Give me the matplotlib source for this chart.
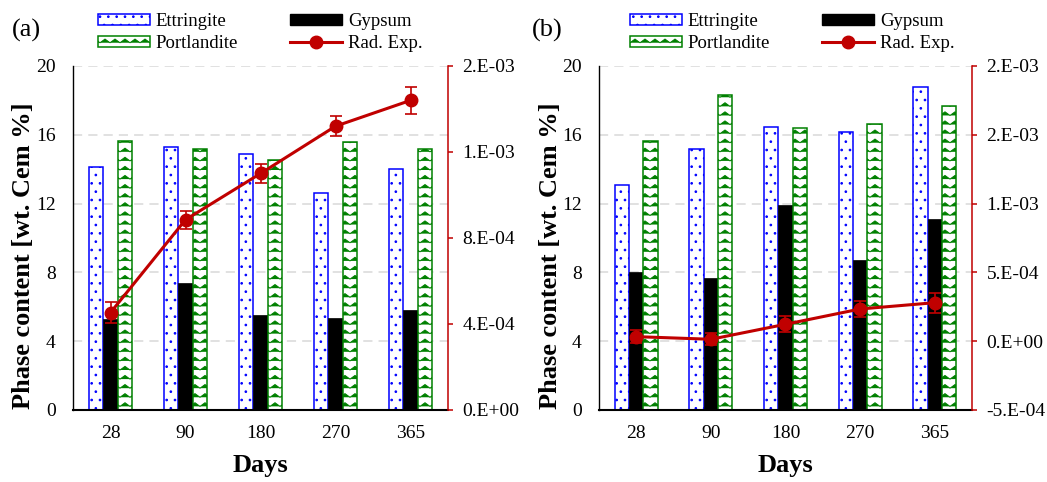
import numpy as np
import matplotlib
matplotlib.use("Agg")
import matplotlib.pyplot as plt
import matplotlib.hatch as mhatch
from matplotlib.path import Path
from matplotlib.lines import Line2D
from matplotlib.patches import Patch
from matplotlib.ticker import FuncFormatter, MultipleLocator

# ---------------- data ----------------
days = ["28", "90", "180", "270", "365"]

ettringite_a = [14.15, 15.3, 14.9, 12.6, 14.0]
gypsum_a = [5.3, 7.4, 5.5, 5.35, 5.8]
portlandite_a = [15.65, 15.2, 14.55, 15.6, 15.15]
radexp_a = [4.53e-4, 8.85e-4, 1.10e-3, 1.32e-3, 1.44e-3]
radexp_err_a = [0.48e-4, 0.42e-4, 0.45e-4, 0.47e-4, 0.63e-4]

ettringite_b = [13.1, 15.15, 16.45, 16.15, 18.8]
gypsum_b = [8.0, 7.7, 11.9, 8.7, 11.1]
portlandite_b = [15.65, 18.3, 16.4, 16.6, 17.65]
radexp_b = [0.33e-4, 0.14e-4, 1.23e-4, 2.34e-4, 2.80e-4]
radexp_err_b = [0.46e-4, 0.45e-4, 0.57e-4, 0.55e-4, 0.73e-4]

legend_labels = ["Ettringite", "Portlandite", "Gypsum", "Rad. Exp."]
panel_labels = ["(a)", "(b)"]

# ---------------- custom zig-zag hatch (replaces 'o') ----------------
class ZigZagHatch(mhatch.HatchPatternBase):
    def __init__(self, hatch, density):
        n = hatch.count('o')
        self.rows = 11 * n
        self.teeth = 10 * n
        self.num_vertices = self.rows * (2 * self.teeth + 1) if n else 0

    def set_vertices_and_codes(self, vertices, codes):
        pts = 2 * self.teeth + 1
        xs = np.linspace(0, 1, pts)
        amp = 0.4 / self.rows
        k = 0
        for r in range(self.rows):
            y0 = (r + 0.3) / self.rows
            ys = y0 + np.where(np.arange(pts) % 2 == 1, amp, 0.0)
            vertices[k:k + pts, 0] = xs
            vertices[k:k + pts, 1] = ys
            codes[k] = Path.MOVETO
            codes[k + 1:k + pts] = Path.LINETO
            k += pts

mhatch._hatch_types = [ZigZagHatch if t is mhatch.SmallCircles else t
                       for t in mhatch._hatch_types]
mhatch.SmallFilledCircles.size = 0.1

plt.rcParams['font.family'] = ['Liberation Serif', 'DejaVu Serif']
plt.rcParams['hatch.linewidth'] = 0.7

RED = '#C00000'
BLUE = '#0000FF'
GREEN = '#008000'


def sci_fmt(v, pos=None):
    if abs(v) < 1e-12:
        return "0.E+00"
    sign = "-" if v < 0 else ""
    a = abs(v)
    e = int(np.floor(np.log10(a) + 1e-9))
    m = int(a / 10 ** e + 0.5 + 1e-9)
    if m >= 10:
        m = 1
        e += 1
    return f"{sign}{m}.E{e:+03d}"


fig = plt.figure(figsize=(10.47, 4.82), dpi=100)
W, H = 1047, 482

panels = [
    dict(left=73, right=448, ett=ettringite_a, gyp=gypsum_a, por=portlandite_a,
         rad=radexp_a, err=radexp_err_a, ylim2=(0, 1.6e-3), step2=4e-4,
         leg_x=98, lab_x=12),
    dict(left=599, right=972, ett=ettringite_b, gyp=gypsum_b, por=portlandite_b,
         rad=radexp_b, err=radexp_err_b, ylim2=(-5e-4, 2e-3), step2=5e-4,
         leg_x=630, lab_x=532),
]
top_px, bot_px = 66, 410
x = np.arange(len(days))
w = 0.193

for i, p in enumerate(panels):
    ax = fig.add_axes([p['left'] / W, 1 - bot_px / H,
                       (p['right'] - p['left']) / W, (bot_px - top_px) / H])
    ax.bar(x - w, p['ett'], w, facecolor='white', edgecolor=BLUE,
           hatch='..', linewidth=1.1, zorder=2)
    ax.bar(x, p['gyp'], w, facecolor='black', edgecolor='black',
           linewidth=0.5, zorder=2)
    ax.bar(x + w, p['por'], w, facecolor='white', edgecolor=GREEN,
           hatch='o', linewidth=1.1, zorder=2)
    ax.set_xlim(-0.5, len(days) - 0.5)
    ax.set_ylim(0, 20)
    ax.yaxis.set_major_locator(MultipleLocator(4))
    ax.set_xticks(x)
    ax.set_xticklabels(days)
    ax.set_axisbelow(True)
    ax.grid(axis='y', color='#D9D9D9', linestyle=(0, (6, 4)), linewidth=1.1)
    ax.tick_params(axis='both', length=0, labelsize=14)
    ax.tick_params(axis='y', pad=12.5)
    ax.tick_params(axis='x', pad=11)
    ax.spines['top'].set_visible(False)
    ax.spines['right'].set_visible(False)
    ax.spines['left'].set_linewidth(1.0)
    ax.spines['bottom'].set_linewidth(1.5)
    ax.set_ylabel("Phase content [wt. Cem %]", fontsize=19, fontweight='bold')
    ax.set_xlabel("Days", fontsize=19, fontweight='bold')
    ax.yaxis.set_label_coords(-0.1, 0.45)
    ax.xaxis.set_label_coords(0.5, -0.128)

    ax2 = ax.twinx()
    ax2.errorbar(x, p['rad'], yerr=p['err'], color=RED, marker='o', ms=9,
                 lw=2.2, elinewidth=1.2, capsize=4.5, capthick=1.2, zorder=5)
    ax2.set_ylim(*p['ylim2'])
    ax2.yaxis.set_major_locator(MultipleLocator(p['step2']))
    ax2.yaxis.set_major_formatter(FuncFormatter(sci_fmt))
    ax2.tick_params(axis='y', colors=RED, labelcolor='black', length=3.5,
                    width=1.1, direction='out', labelsize=14, pad=7)
    for s in ['top', 'left', 'bottom']:
        ax2.spines[s].set_visible(False)
    ax2.spines['right'].set_color(RED)
    ax2.spines['right'].set_linewidth(1.1)

    handles = [
        Patch(facecolor='white', edgecolor=BLUE, hatch='..', linewidth=1.1),
        Patch(facecolor='white', edgecolor=GREEN, hatch='o', linewidth=1.1),
        Patch(facecolor='black', edgecolor='black'),
        Line2D([0], [0], color=RED, lw=2.2, marker='o', ms=9),
    ]
    fig.legend(handles, legend_labels, loc='upper left',
               bbox_to_anchor=(p['leg_x'] / W, 1 - 13 / H), ncol=2,
               frameon=False, fontsize=13.5, handlelength=2.77,
               handleheight=0.55, handletextpad=0.3, columnspacing=2.8,
               labelspacing=0.28, borderpad=0, borderaxespad=0)
    fig.text(p['lab_x'] / W, 1 - 30 / H, panel_labels[i], fontsize=19,
             ha='left', va='center')

fig.savefig("out.png", dpi=100)
